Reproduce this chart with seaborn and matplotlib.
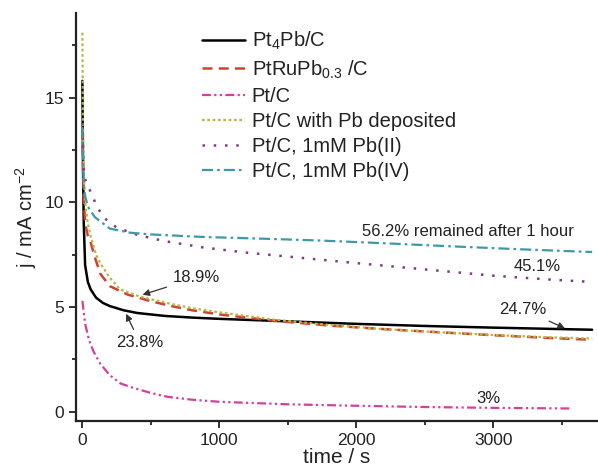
import matplotlib
matplotlib.use('Agg')
import matplotlib.pyplot as plt
import seaborn as sns
import pandas as pd
import numpy as np
from matplotlib.ticker import MultipleLocator

# Data (time in s, j in mA cm^-2)
t_pt4pb = [0, 5, 10, 20, 40, 60, 100, 150, 200, 300, 400, 600, 800, 1000, 1500, 2000, 2500, 3000, 3500, 3720]
j_pt4pb = [15.8, 11.5, 9.0, 7.0, 6.2, 5.85, 5.45, 5.2, 5.05, 4.85, 4.72, 4.58, 4.5, 4.44, 4.32, 4.2, 4.1, 4.02, 3.95, 3.92]

t_ptrupb = [0, 5, 10, 20, 40, 60, 90, 130, 200, 330, 500, 650, 800, 1000, 1400, 1800, 2200, 2600, 3000, 3400, 3720]
j_ptrupb = [13.5, 11.5, 10.2, 9.0, 8.4, 8.1, 7.4, 6.6, 6.0, 5.6, 5.28, 5.05, 4.85, 4.65, 4.35, 4.12, 3.95, 3.8, 3.66, 3.53, 3.44]

t_ptc = [0, 20, 50, 80, 130, 200, 280, 370, 500, 620, 800, 1000, 1500, 2000, 2500, 3000, 3560]
j_ptc = [5.3, 4.2, 3.4, 2.9, 2.3, 1.75, 1.35, 1.15, 0.9, 0.72, 0.58, 0.48, 0.36, 0.29, 0.23, 0.19, 0.16]

t_ptc_pb = [0, 5, 10, 20, 40, 60, 100, 130, 200, 275, 420, 550, 650, 800, 1000, 1400, 1800, 2200, 2600, 3000, 3400, 3720]
j_ptc_pb = [18.1, 13.5, 11.5, 10.0, 9.0, 8.4, 7.5, 7.1, 6.4, 5.85, 5.5, 5.3, 5.15, 4.95, 4.75, 4.4, 4.15, 3.95, 3.8, 3.67, 3.56, 3.5]

t_pb2 = [0, 5, 10, 20, 40, 60, 100, 150, 250, 400, 600, 880, 1200, 1600, 2000, 2500, 3000, 3400, 3720]
j_pb2 = [13.8, 12.2, 11.6, 11.1, 10.8, 10.5, 9.9, 9.3, 8.8, 8.45, 8.15, 7.85, 7.6, 7.35, 7.1, 6.8, 6.5, 6.32, 6.2]

t_pb4 = [0, 5, 10, 20, 40, 90, 200, 350, 500, 880, 1300, 1730, 2200, 2700, 3200, 3720]
j_pb4 = [13.6, 11.8, 10.9, 10.3, 9.8, 9.3, 8.75, 8.55, 8.47, 8.35, 8.27, 8.18, 8.05, 7.9, 7.76, 7.63]

labels = ['Pt$_4$Pb/C', 'PtRuPb$_{0.3}$ /C', 'Pt/C', 'Pt/C with Pb deposited',
          'Pt/C, 1mM Pb(II)', 'Pt/C, 1mM Pb(IV)']
times = [t_pt4pb, t_ptrupb, t_ptc, t_ptc_pb, t_pb2, t_pb4]
currents = [j_pt4pb, j_ptrupb, j_ptc, j_ptc_pb, j_pb2, j_pb4]

colors = ['black', '#d2402e', '#d43f9e', '#b5b843', '#7d3d80', '#3c9aa8']
dashes = [None, (4, 2.5), (4, 1.5, 1, 1.5, 1, 1.5), (1.2, 1.2), (1, 3.5), (5, 1.8, 1.2, 1.8)]
widths = [1.8, 1.8, 1.6, 1.6, 1.8, 1.6]

sns.set_style('ticks')
plt.rcParams['font.family'] = ['Liberation Sans', 'DejaVu Sans']
plt.rcParams['mathtext.default'] = 'regular'

fig = plt.figure(figsize=(5.98, 4.75), dpi=100)
ax = fig.add_axes([0.127, 0.114, 0.873, 0.859])

for lab, t, j, c, d, w in zip(labels, times, currents, colors, dashes, widths):
    df = pd.DataFrame({'time': t, 'j': j})
    sns.lineplot(data=df, x='time', y='j', ax=ax, color=c, lw=w, label=lab)
    if d is not None:
        ax.lines[-1].set_dashes(d)

ax.set_xlim(-47, 3763)
ax.set_ylim(-0.43, 19.05)
ax.xaxis.set_major_locator(MultipleLocator(1000))
ax.xaxis.set_minor_locator(MultipleLocator(500))
ax.yaxis.set_major_locator(MultipleLocator(5))
ax.yaxis.set_minor_locator(MultipleLocator(2.5))
ax.tick_params(which='major', direction='out', length=5, width=1.3, labelsize=12.5, colors='#222222')
ax.tick_params(which='minor', direction='out', length=3, width=1.3)

for s in ['top', 'right']:
    ax.spines[s].set_visible(False)
for s in ['left', 'bottom']:
    ax.spines[s].set_linewidth(1.6)
    ax.spines[s].set_color('#222222')

ax.set_xlabel('time / s', fontsize=15, labelpad=0, color='#222222')
ax.set_ylabel('j / mA cm$^{-2}$', fontsize=14.5, labelpad=4, color='#222222')

leg = ax.legend(loc='upper left', bbox_to_anchor=(0.215, 0.992), frameon=False, fontsize=14.5,
                handlelength=2.1, handletextpad=0.35, labelspacing=0.3, borderpad=0.2)
for txt in leg.get_texts():
    txt.set_color('#222222')

tc = '#222222'
ax.text(2814, 8.6, '56.2% remained after 1 hour', fontsize=12, ha='center', va='center', color=tc)
ax.text(3318, 6.92, '45.1%', fontsize=12, ha='center', va='center', color=tc)
ax.text(2960, 0.65, '3%', fontsize=12, ha='center', va='center', color=tc)
arr = dict(arrowstyle='-|>', color='#333333', lw=0.9, mutation_scale=10)
ax.annotate('24.7%', xy=(3540, 3.93), xytext=(3215, 4.9), fontsize=12, ha='center', va='center',
            color=tc, arrowprops=arr)
ax.annotate('18.9%', xy=(420, 5.55), xytext=(830, 6.4), fontsize=12, ha='center', va='center',
            color=tc, arrowprops=arr)
ax.annotate('23.8%', xy=(310, 4.8), xytext=(420, 3.3), fontsize=12, ha='center', va='center',
            color=tc, arrowprops=arr)

fig.savefig('out.png', dpi=100)
